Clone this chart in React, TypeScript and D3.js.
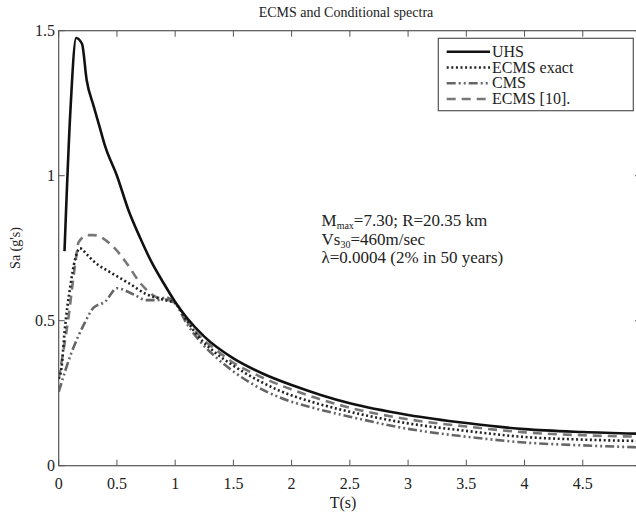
import React from "react";
import * as d3 from "d3";

const periodsUHS = [0.05, 0.1, 0.15, 0.2, 0.24, 0.3, 0.35, 0.4, 0.5, 0.6, 0.7, 0.8, 0.9, 1.0, 1.1, 1.25, 1.5, 1.75, 2.0, 2.25, 2.5, 3.0, 3.5, 4.0, 4.5, 5.0];
const saUHS = [0.74, 1.22, 1.475, 1.455, 1.33, 1.24, 1.17, 1.1, 1.0, 0.88, 0.785, 0.7, 0.63, 0.565, 0.51, 0.445, 0.37, 0.318, 0.278, 0.244, 0.215, 0.175, 0.147, 0.126, 0.116, 0.11];

const periodsExact = [0.0, 0.025, 0.05, 0.1, 0.14, 0.18, 0.25, 0.3, 0.45, 0.6, 0.75, 0.9, 1.0, 1.1, 1.2, 1.35, 1.5, 1.7, 1.9, 2.2, 2.5, 3.0, 3.5, 4.0, 4.5, 5.0];
const saExact = [0.3, 0.34, 0.46, 0.62, 0.71, 0.75, 0.725, 0.705, 0.665, 0.63, 0.592, 0.572, 0.56, 0.5, 0.445, 0.388, 0.345, 0.297, 0.258, 0.217, 0.186, 0.146, 0.12, 0.099, 0.09, 0.085];

const periodsCMS = [0.0, 0.11, 0.22, 0.3, 0.4, 0.5, 0.65, 0.75, 0.85, 0.92, 1.0, 1.1, 1.2, 1.35, 1.5, 1.7, 1.9, 2.2, 2.5, 3.0, 3.5, 4.0, 4.5, 5.0];
const saCMS = [0.255, 0.39, 0.49, 0.545, 0.566, 0.612, 0.589, 0.571, 0.571, 0.58, 0.56, 0.49, 0.435, 0.374, 0.325, 0.273, 0.235, 0.198, 0.169, 0.127, 0.1, 0.08, 0.07, 0.063];

const periodsE10 = [0.0, 0.08, 0.15, 0.17, 0.25, 0.3, 0.48, 0.58, 0.7, 0.83, 0.95, 1.0, 1.1, 1.2, 1.35, 1.5, 1.7, 1.9, 2.2, 2.5, 3.0, 3.5, 4.0, 4.5, 5.0];
const saE10 = [0.3, 0.5, 0.72, 0.77, 0.795, 0.795, 0.75, 0.7, 0.63, 0.583, 0.57, 0.56, 0.505, 0.452, 0.4, 0.355, 0.313, 0.278, 0.235, 0.2, 0.16, 0.135, 0.115, 0.105, 0.1];

const xTicks = [0, 0.5, 1, 1.5, 2, 2.5, 3, 3.5, 4, 4.5, 5];
const xTickLabels = ["0", "0.5", "1", "1.5", "2", "2.5", "3", "3.5", "4", "4.5", ""];
const yTicks = [0, 0.5, 1, 1.5];
const yTickLabels = ["0", "0.5", "1", "1.5"];

const seriesNames = ["UHS", "ECMS exact", "CMS", "ECMS [10]."];

const FONT = "'Liberation Serif', 'DejaVu Serif', serif";

export default function App() {
  const W = 636, H = 516;
  const left = 58.7, right = 641, top = 30.7, bottom = 465.7;
  const x = d3.scaleLinear().domain([0, 5]).range([left, right]);
  const y = d3.scaleLinear().domain([0, 1.5]).range([bottom, top]);

  const line = d3
    .line<[number, number]>()
    .x(d => x(d[0]))
    .y(d => y(d[1]))
    .curve(d3.curveMonotoneX);
  const zip = (a: number[], b: number[]) => a.map((t, i) => [t, b[i]] as [number, number]);

  const styles = [
    { stroke: "#111", width: 2.6, dash: "none" },
    { stroke: "#222", width: 2.6, dash: "2,2.6" },
    { stroke: "#666", width: 2.6, dash: "9,3,2,3,2,3" },
    { stroke: "#777", width: 2.6, dash: "9,6" },
  ];
  const data = [
    zip(periodsUHS, saUHS),
    zip(periodsExact, saExact),
    zip(periodsCMS, saCMS),
    zip(periodsE10, saE10),
  ];

  const axisColor = "#555";
  const tickLen = 6;

  const legX = 438.3, legY = 38.3, legW = 195, legH = 72.4;
  const rowY = [51.7, 67.5, 83.3, 99];

  return (
    <svg width={W} height={H} style={{ position: "absolute", left: 0, top: 0, background: "#fff" }}>
      <rect x={0} y={0} width={W} height={H} fill="#fff" />
      <defs>
        <clipPath id="plotclip">
          <rect x={left} y={top} width={right - left} height={bottom - top} />
        </clipPath>
      </defs>
      <text x={346} y={17} textAnchor="middle" fontFamily={FONT} fontSize={14} fill="#222">
        ECMS and Conditional spectra
      </text>

      {/* frame */}
      <rect x={left} y={top} width={right - left} height={bottom - top} fill="none" stroke={axisColor} strokeWidth={1.2} />

      {/* ticks */}
      {xTicks.map((t, i) => (
        <g key={"xt" + i}>
          <line x1={x(t)} x2={x(t)} y1={bottom} y2={bottom - tickLen} stroke={axisColor} strokeWidth={1} />
          <line x1={x(t)} x2={x(t)} y1={top} y2={top + tickLen} stroke={axisColor} strokeWidth={1} />
          {xTickLabels[i] !== "" && (
            <text x={x(t)} y={488.5} textAnchor="middle" fontFamily={FONT} fontSize={16} fill="#222">
              {xTickLabels[i]}
            </text>
          )}
        </g>
      ))}
      {yTicks.map((t, i) => (
        <g key={"yt" + i}>
          <line x1={left} x2={left + tickLen} y1={y(t)} y2={y(t)} stroke={axisColor} strokeWidth={1} />
          <line x1={right} x2={right - tickLen} y1={y(t)} y2={y(t)} stroke={axisColor} strokeWidth={1} />
          <text x={55} y={y(t) + 5.5} textAnchor="end" fontFamily={FONT} fontSize={16} fill="#222">
            {yTickLabels[i]}
          </text>
        </g>
      ))}

      {/* lines */}
      <g clipPath="url(#plotclip)">
        {[3, 2, 1, 0].map(i => (
          <path
            key={"l" + i}
            d={line(data[i]) || ""}
            fill="none"
            stroke={styles[i].stroke}
            strokeWidth={styles[i].width}
            strokeDasharray={styles[i].dash}
            strokeLinejoin="round"
          />
        ))}
      </g>

      {/* annotation */}
      <text x={321.5} y={226} fontFamily={FONT} fontSize={17} fill="#222">
        M<tspan fontSize={10} dy={3}>max</tspan><tspan dy={-3}>=7.30; R=20.35 km</tspan>
      </text>
      <text x={321.5} y={244.5} fontFamily={FONT} fontSize={17} fill="#222">
        Vs<tspan fontSize={10} dy={3}>30</tspan><tspan dy={-3}>=460m/sec</tspan>
      </text>
      <text x={321.5} y={263} fontFamily={FONT} fontSize={17} fill="#222">
        λ=0.0004 (2% in 50 years)
      </text>

      {/* legend */}
      <rect x={legX} y={legY} width={legW} height={legH} fill="#fff" stroke={axisColor} strokeWidth={1.2} />
      {seriesNames.map((n, i) => (
        <g key={"lg" + i}>
          <line
            x1={446.7}
            x2={490}
            y1={rowY[i]}
            y2={rowY[i]}
            stroke={styles[i].stroke}
            strokeWidth={styles[i].width}
            strokeDasharray={styles[i].dash}
          />
          <text x={492} y={rowY[i] + 5} fontFamily={FONT} fontSize={16} fill="#222">
            {n}
          </text>
        </g>
      ))}

      {/* axis labels */}
      <text x={343} y={508} textAnchor="middle" fontFamily={FONT} fontSize={16} fill="#222">
        T(s)
      </text>
      <text
        transform={`translate(20,${248}) rotate(-90)`}
        textAnchor="middle"
        fontFamily={FONT}
        fontSize={14}
        fill="#222"
      >
        Sa (g's)
      </text>
    </svg>
  );
}
